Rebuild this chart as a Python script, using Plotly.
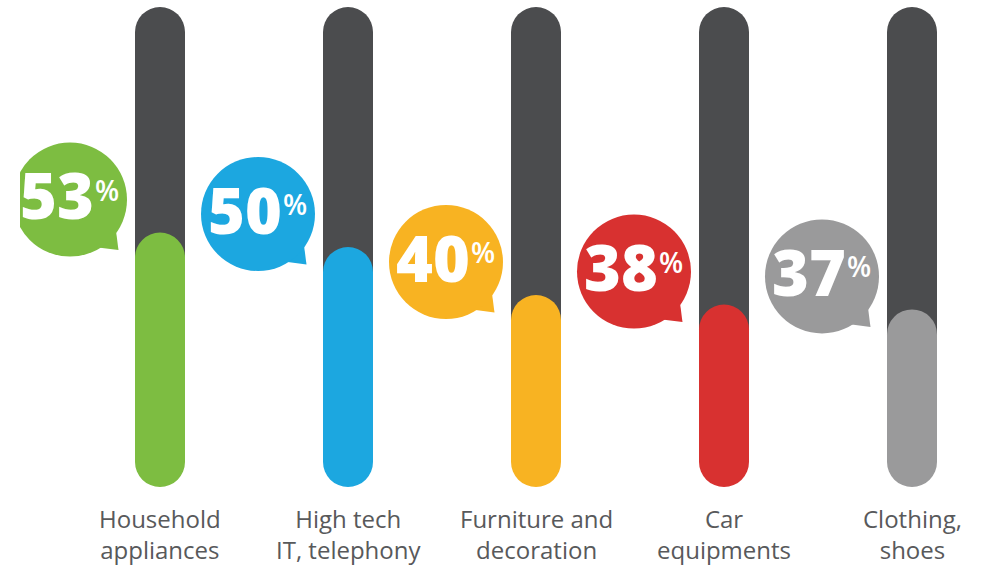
import plotly.graph_objects as go

categories = ["Household<br>appliances", "High tech<br>IT, telephony",
              "Furniture and<br>decoration", "Car<br>equipments", "Clothing,<br>shoes"]
values = [53, 50, 40, 38, 37]
colors = ["#7dbd41", "#1ca7e0", "#f8b322", "#d83130", "#9a9a9b"]
track_color = "#4b4c4e"
label_color = "#58595b"

W, H = 982, 570
LEFT = 20
x = list(range(len(values)))
# pixel scales
px_per_x = 188.0
px_per_y = 4.8
x_range = [-(160 - LEFT) / px_per_x, 4 + (W - 912) / px_per_x]
y_range = [-(H - 487) / px_per_y, 100 + 7 / px_per_y]
bar_w = 50 / px_per_x

fig = go.Figure()

# dark track (rounded ends; lower end hidden under the coloured fill)
fig.add_trace(go.Bar(
    x=x, y=[100 - v / 2 for v in values], base=[v / 2 for v in values],
    width=bar_w, marker=dict(color=track_color, cornerradius=25, line=dict(width=0)),
    hoverinfo="skip"))
# coloured fill, rounded at both ends
fig.add_trace(go.Bar(
    x=x, y=[v - 0.01 for v in values], base=[0.01] * len(values),
    width=bar_w, marker=dict(color=colors, cornerradius=25, line=dict(width=0)),
    hoverinfo="skip"))

# speech bubbles
bx = [i - 90 / px_per_x for i in x]
by = [v + 33 / px_per_y for v in values]
fig.add_trace(go.Scatter(
    x=[b + 40 / px_per_x for b in bx], y=[b - 42 / px_per_y for b in by],
    mode="markers",
    marker=dict(symbol="triangle-down", angle=-45, size=24, color=colors,
                line=dict(width=0)),
    hoverinfo="skip"))
fig.add_trace(go.Scatter(
    x=bx, y=by, mode="markers",
    marker=dict(symbol="circle", size=114, color=colors, line=dict(width=0)),
    hoverinfo="skip"))
fig.add_trace(go.Scatter(
    x=[b - 13 / px_per_x for b in bx], y=[b - 4 / px_per_y for b in by], mode="text",
    text=[f"{v}" for v in values],
    textposition="middle center",
    textfont=dict(family="Open Sans", size=63, color="white", weight=800),
    hoverinfo="skip"))
fig.add_trace(go.Scatter(
    x=[b + 37 / px_per_x for b in bx], y=[b + 6 / px_per_y for b in by], mode="text",
    text=["%" for v in values],
    textposition="middle center",
    textfont=dict(family="Open Sans", size=28, color="white", weight=600),
    hoverinfo="skip"))

# category labels
for i, c in zip(x, categories):
    fig.add_annotation(
        x=i, y=-13 / px_per_y, xref="x", yref="y", text=c, showarrow=False,
        yanchor="top", xanchor="center", align="center",
        font=dict(family="Open Sans", size=24, color=label_color))

fig.update_layout(
    width=W, height=H, margin=dict(l=LEFT, r=0, t=0, b=0),
    paper_bgcolor="white", plot_bgcolor="white",
    barmode="overlay", showlegend=False,
    xaxis=dict(range=x_range, visible=False, fixedrange=True),
    yaxis=dict(range=y_range, visible=False, fixedrange=True),
)

fig.write_html("out.html")
